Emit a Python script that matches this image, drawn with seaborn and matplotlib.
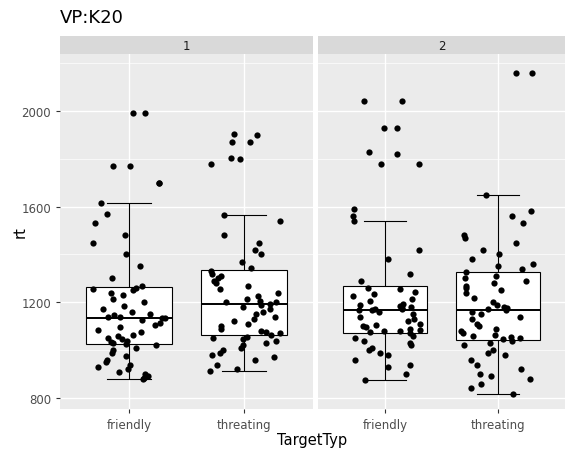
import numpy as np
import pandas as pd
import seaborn as sns
from matplotlib import pyplot as plt

# rt values, per panel (VP) and TargetTyp
p1_friendly = [1990, 1990, 1770, 1770, 1700, 1700, 1615, 1570, 1530, 1480, 1450, 1400, 1350, 1300, 1270,
               1260, 1255, 1250, 1240, 1230, 1215, 1200, 1185, 1170, 1160, 1150, 1145, 1140, 1137, 1135,
               1133, 1125, 1115, 1105, 1095, 1085, 1075, 1065, 1058, 1052, 1045, 1040, 1035, 1030, 1025,
               1020, 1010, 1000, 990, 975, 960, 950, 940, 930, 920, 910, 900, 890, 885, 880]
p1_threating = [1905, 1900, 1870, 1870, 1805, 1800, 1780, 1565, 1540, 1480, 1450, 1420, 1400, 1370, 1345,
                1330, 1320, 1310, 1300, 1290, 1280, 1270, 1255, 1240, 1225, 1215, 1205, 1200, 1200, 1195,
                1190, 1180, 1170, 1160, 1150, 1140, 1130, 1120, 1110, 1100, 1090, 1080, 1075, 1070, 1065,
                1055, 1050, 1045, 1040, 1030, 1020, 1010, 1000, 990, 980, 970, 960, 940, 920, 913]
p2_friendly = [2040, 2040, 1930, 1930, 1830, 1820, 1780, 1780, 1590, 1560, 1540, 1420, 1380, 1320, 1290,
               1260, 1255, 1245, 1235, 1225, 1215, 1205, 1195, 1190, 1185, 1180, 1175, 1172, 1170, 1168,
               1166, 1160, 1150, 1140, 1130, 1120, 1110, 1105, 1100, 1095, 1090, 1085, 1080, 1078, 1075,
               1070, 1060, 1050, 1040, 1030, 1020, 1010, 1000, 990, 980, 960, 940, 930, 900, 875]
p2_threating = [2160, 2160, 1650, 1580, 1560, 1530, 1480, 1470, 1450, 1420, 1400, 1380, 1360, 1350, 1340,
                1325, 1310, 1300, 1290, 1280, 1270, 1260, 1250, 1240, 1220, 1200, 1190, 1180, 1175, 1170,
                1166, 1160, 1150, 1140, 1130, 1110, 1100, 1090, 1080, 1070, 1065, 1060, 1055, 1050, 1045,
                1040, 1030, 1020, 1000, 990, 980, 960, 940, 920, 900, 890, 880, 860, 840, 815]

categories = ['friendly', 'threating']
panels = {'1': (p1_friendly, p1_threating), '2': (p2_friendly, p2_threating)}

np.random.seed(3)  # only for the horizontal jitter of points

fig = plt.figure(figsize=(5.76, 4.56), dpi=100)
W, H = 576, 456
axes = [fig.add_axes([60 / W, 1 - 410 / H, 253 / W, 355 / H]),
        fig.add_axes([318 / W, 1 - 410 / H, 247 / W, 355 / H])]

for i, (ax, (name, (f, t))) in enumerate(zip(axes, panels.items())):
    df = pd.DataFrame({'TargetTyp': ['friendly'] * len(f) + ['threating'] * len(t), 'rt': f + t})
    ax.set_facecolor('#EBEBEB')
    for y in [1000, 1400, 1800, 2200]:
        ax.axhline(y, color='white', lw=0.5, zorder=0)
    for y in [800, 1200, 1600, 2000]:
        ax.axhline(y, color='white', lw=1.0, zorder=0)
    for x in [0, 1]:
        ax.axvline(x, color='white', lw=1.0, zorder=0)
    sns.boxplot(data=df, x='TargetTyp', y='rt', order=categories, ax=ax, width=0.75,
                showfliers=False, color='white', linecolor='black', linewidth=0.8,
                medianprops={'linewidth': 1.4})
    sns.stripplot(data=df, x='TargetTyp', y='rt', order=categories, ax=ax, jitter=0.33,
                  color='black', size=4.5)
    ax.set_ylim(754, 2238)
    ax.set_xlim(-0.6, 1.6)
    ax.set_yticks([800, 1200, 1600, 2000])
    for s in ax.spines.values():
        s.set_visible(False)
    ax.tick_params(colors='#4D4D4D', length=3, labelsize=8.5, color='#333333')
    ax.set_xlabel('')
    ax.set_ylabel('')
    if i == 1:
        ax.set_yticklabels([])
        ax.tick_params(axis='y', length=0)
    # facet strip
    strip = plt.Rectangle((0, 1.0), 1, 18 / 355, transform=ax.transAxes, fc='#D9D9D9',
                          ec='none', clip_on=False)
    ax.add_patch(strip)
    ax.text(0.5, 1.0 + 9 / 355, name, transform=ax.transAxes, ha='center', va='center',
            fontsize=8.5, color='#1A1A1A', zorder=5)

fig.text(312 / W, 1 - 441 / H, 'TargetTyp', ha='center', va='center', fontsize=10.5)
fig.text(20 / W, 1 - 232 / H, 'rt', ha='center', va='center', fontsize=10.5, rotation=90)
fig.text(60 / W, 1 - 18 / H, 'VP:K20', ha='left', va='center', fontsize=13)

fig.savefig('out.png', dpi=100)
